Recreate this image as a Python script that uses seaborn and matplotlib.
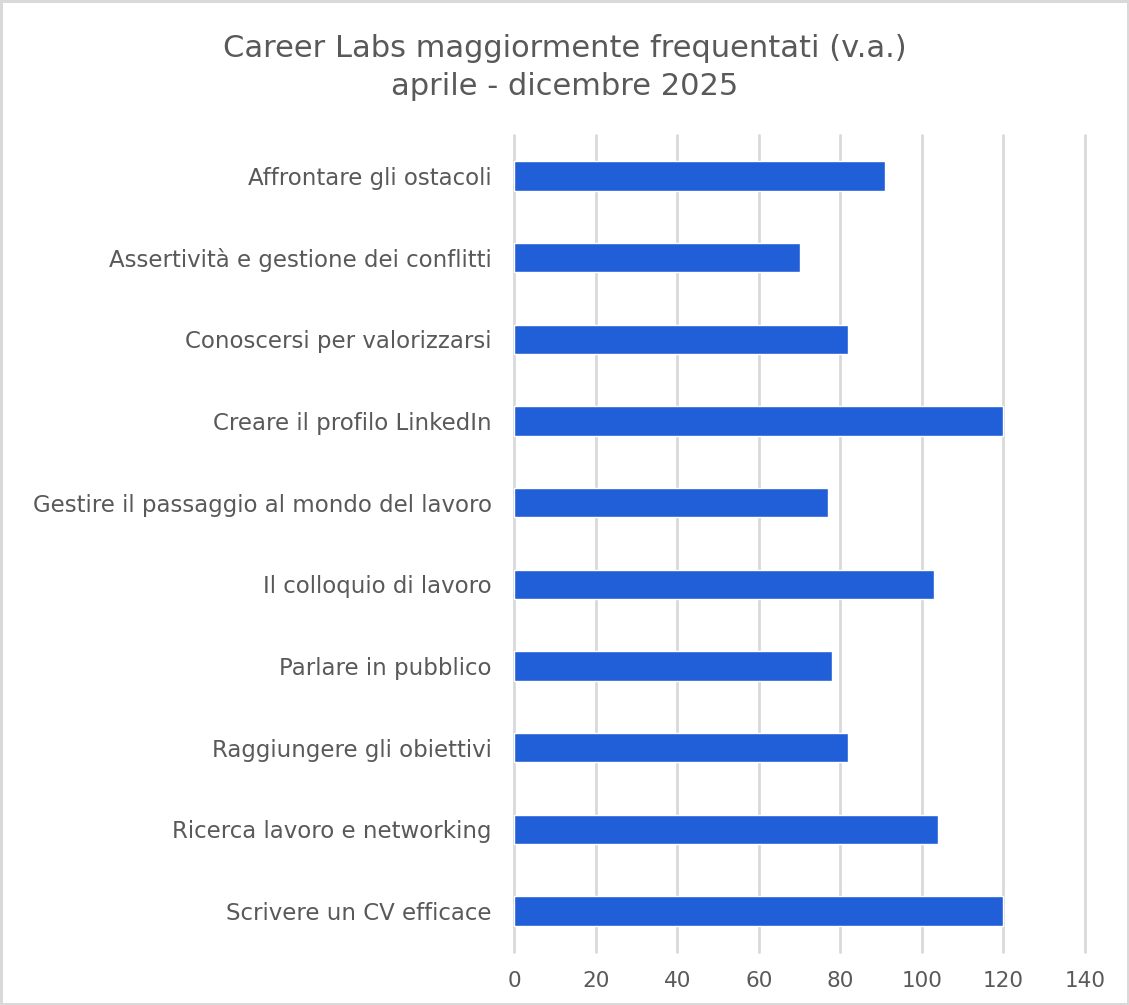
import matplotlib
matplotlib.use('Agg')
import matplotlib.pyplot as plt
import seaborn as sns
import pandas as pd

# dati
labs = ['Affrontare gli ostacoli',
        'Assertività e gestione dei conflitti',
        'Conoscersi per valorizzarsi',
        'Creare il profilo LinkedIn',
        'Gestire il passaggio al mondo del lavoro',
        'Il colloquio di lavoro',
        'Parlare in pubblico',
        'Raggiungere gli obiettivi',
        'Ricerca lavoro e networking',
        'Scrivere un CV efficace']
partecipanti = [91, 70, 82, 120, 77, 103, 78, 82, 104, 120]
x_ticks = [0, 20, 40, 60, 80, 100, 120, 140]

df = pd.DataFrame({'lab': labs, 'n': partecipanti})

sns.set_style('white')
plt.rcParams['font.family'] = ['DejaVu Sans']

fig = plt.figure(figsize=(11.29, 10.05), dpi=100)
fig.patch.set_edgecolor('#d9d9d9')
fig.patch.set_linewidth(2.5)
ax = fig.add_axes([0.4553, 0.0527, 0.5057, 0.813])

sns.barplot(data=df, x='n', y='lab', color='#215fd8', width=0.36,
            saturation=1, ax=ax, zorder=3)

ax.set_xlim(0, 140)
ax.set_xticks(x_ticks)
ax.xaxis.grid(True, color='#d9d9d9', linewidth=2, zorder=0)
for g in ax.get_xgridlines():
    g.set_clip_on(False)
ax.set_axisbelow(True)
for s in ax.spines.values():
    s.set_visible(False)
ax.tick_params(axis='both', length=0, colors='#595959')
ax.tick_params(axis='x', pad=14, labelsize=15.5)
ax.tick_params(axis='y', pad=16, labelsize=16.5)
ax.set_xlabel('')
ax.set_ylabel('')

fig.suptitle('Career Labs maggiormente frequentati (v.a.)\naprile - dicembre 2025',
             y=0.966, fontsize=22, color='#595959', linespacing=1.4)

plt.savefig('out.png', dpi=100)
